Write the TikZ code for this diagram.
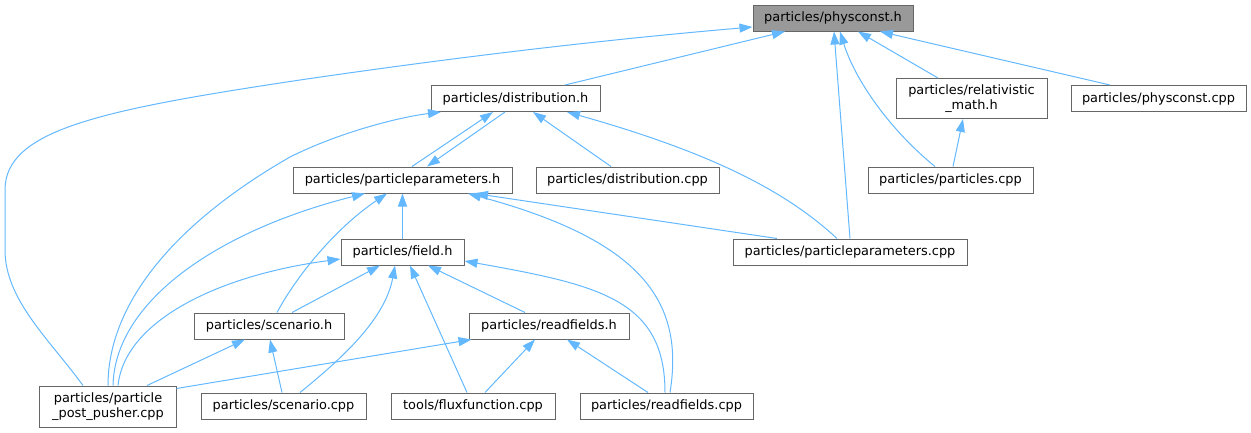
\documentclass[tikz,border=0pt]{standalone}
\usepackage{fontspec}
\setmainfont{DejaVu Sans}
\usetikzlibrary{arrows.meta}
\definecolor{edgeblue}{HTML}{63B8FF}
\definecolor{boxgray}{HTML}{666666}
\definecolor{rootgray}{HTML}{999999}
\begin{document}
\begin{tikzpicture}[x=1bp,y=-1bp,
  box/.style={draw=boxgray, line width=1bp, fill=white, inner sep=0pt, text=black,
    font=\fontsize{12.9bp}{15.5bp}\selectfont, align=center, minimum height=26bp},
  edge/.style={draw=edgeblue, line width=1bp, -{Triangle[length=13bp,width=9bp]}}]
\useasboundingbox (0,0) rectangle (1251,432);
% nodes
\node[box, fill=rootgray, minimum width=160bp] (pc) at (833,18) {particles/physconst.h};
\node[box, minimum width=169bp] (dh) at (515.5,98.5) {particles/distribution.h};
\node[box, minimum width=151bp, minimum height=40bp] (rm) at (971.5,98.5) {particles/relativistic\\\_math.h};
\node[box, minimum width=175bp] (pcc) at (1158.5,98.5) {particles/physconst.cpp};
\node[box, minimum width=219bp] (pph) at (402.5,180) {particles/particleparameters.h};
\node[box, minimum width=183bp] (dcpp) at (627.5,180) {particles/distribution.cpp};
\node[box, minimum width=165bp] (pcpp) at (950.5,180) {particles/particles.cpp};
\node[box, minimum width=234bp] (ppcpp) at (850,252) {particles/particleparameters.cpp};
\node[box, minimum width=123bp] (fh) at (402.5,252) {particles/field.h};
\node[box, minimum width=150bp] (sh) at (269,326) {particles/scenario.h};
\node[box, minimum width=160bp] (rfh) at (549,326) {particles/readfields.h};
\node[box, minimum width=136bp, minimum height=41bp] (pus) at (108,406.5) {particles/particle\\\_post\_pusher.cpp};
\node[box, minimum width=165bp] (scpp) at (283.5,406) {particles/scenario.cpp};
\node[box, minimum width=164bp] (flux) at (473,406) {tools/fluxfunction.cpp};
\node[box, minimum width=173bp] (rfcpp) at (666.5,406) {particles/readfields.cpp};
% edges into physconst.h
\draw[edge] ([xshift=-25bp]pus.north) .. controls (50,340) and (5,300) .. (5,250) -- (5,190)
  .. controls (5,130) and (100,110) .. (300,80) .. controls (450,58) and (600,40) .. ([yshift=-9bp]pc.west);
\draw[edge] ([xshift=49.5bp]dh.north) -- ([xshift=-48bp]pc.south);
\draw[edge] (ppcpp.north) -- ([xshift=1bp]pc.south);
\draw[edge] ([xshift=-15.5bp]pcpp.north) .. controls (890,130) and (855,80) .. ([xshift=7bp]pc.south);
\draw[edge] ([xshift=-33.5bp]rm.north) -- ([xshift=25bp]pc.south);
\draw[edge] ([xshift=-48.5bp]pcc.north) -- ([xshift=47bp]pc.south);
% relativistic_math.h
\draw[edge] ([xshift=2.5bp]pcpp.north) -- ([xshift=-8.5bp]rm.south);
% distribution.h
\draw[edge] (pus.north) .. controls (108,300) and (180,220) .. (290,157) .. controls (340,132) and (400,117) .. ([xshift=-74.5bp]dh.south);
\draw[edge] ([xshift=9.5bp]pph.north) -- ([xshift=-22.5bp]dh.south);
\draw[edge] ([xshift=-10.5bp]dh.south) -- ([xshift=24.5bp]pph.north);
\draw[edge] ([xshift=-16.5bp]dcpp.north) -- ([xshift=17.5bp]dh.south);
\draw[edge] ([xshift=-13bp]ppcpp.north) .. controls (790,195) and (720,155) .. ([xshift=51.5bp]dh.south);
% particleparameters.h
\draw[edge] ([xshift=5bp]pus.north) .. controls (115,300) and (220,230) .. ([xshift=-37.5bp]pph.south);
\draw[edge] ([xshift=8bp]sh.north) .. controls (300,270) and (340,225) .. ([xshift=-15.5bp]pph.south);
\draw[edge] (fh.north) -- (pph.south);
\draw[edge] ([xshift=-73bp]ppcpp.north) -- ([xshift=72.5bp]pph.south);
\draw[edge] ([xshift=3.5bp]rfcpp.north) .. controls (685,300) and (640,240) .. ([xshift=65.5bp]pph.south);
% field.h
\draw[edge] ([xshift=10bp]pus.north) .. controls (125,320) and (220,275) .. ([yshift=-7bp]fh.west);
\draw[edge] ([xshift=23bp]sh.north) -- ([xshift=-22.5bp]fh.south);
\draw[edge] ([xshift=16.5bp]scpp.north) .. controls (340,360) and (385,320) .. ([xshift=-7.5bp]fh.south);
\draw[edge] ([xshift=-6bp]flux.north) -- ([xshift=7.5bp]fh.south);
\draw[edge] ([xshift=-24bp]rfh.north) -- ([xshift=25.5bp]fh.south);
\draw[edge] ([xshift=-1.5bp]rfcpp.north) .. controls (665,300) and (600,285) .. ([yshift=-9bp]fh.east);
% scenario.h
\draw[edge] ([xshift=39bp]pus.north) -- ([xshift=-24bp]sh.south);
\draw[edge] ([xshift=-1.5bp]scpp.north) -- ([xshift=1bp]sh.south);
% readfields.h
\draw[edge] ([yshift=-3bp]pus.north east) -- ([xshift=3bp]rfh.south west);
\draw[edge] ([xshift=12bp]flux.north) -- ([xshift=-14bp]rfh.south);
\draw[edge] ([xshift=-18.5bp]rfcpp.north) -- ([xshift=18bp]rfh.south);
\end{tikzpicture}
\end{document}
